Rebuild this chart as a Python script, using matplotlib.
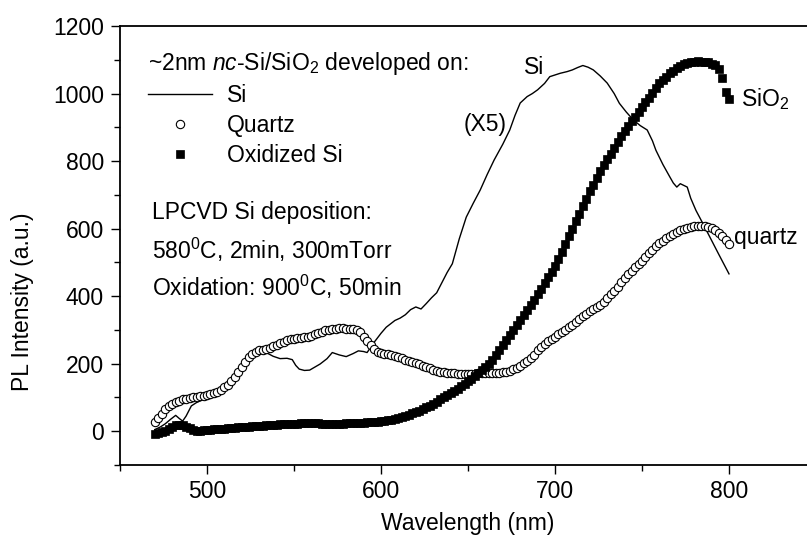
import numpy as np
import matplotlib
matplotlib.use("Agg")
import matplotlib.pyplot as plt
from matplotlib.ticker import MultipleLocator

plt.rcParams['font.family'] = ['Liberation Sans', 'DejaVu Sans']
plt.rcParams['mathtext.fontset'] = 'custom'
plt.rcParams['mathtext.rm'] = 'Liberation Sans'
plt.rcParams['mathtext.it'] = 'Liberation Sans:italic'

# PL spectra (wavelength in nm, intensity in a.u.)
wl_2nm = np.arange(470, 801, 2)

quartz = [
    28, 38, 52, 66, 75, 82, 87, 91, 94, 96,
    99, 101, 102, 103, 104, 107, 110, 113, 117, 122,
    130, 138, 150, 162, 175, 190, 205, 220, 230, 236,
    240, 242, 244, 247, 251, 256, 261, 265, 269, 272,
    274, 275, 277, 278, 280, 283, 287, 291, 295, 299,
    301, 303, 304, 305, 305, 304, 303, 302, 300, 295,
    280, 268, 255, 243, 236, 232, 230, 229, 227, 223,
    220, 216, 212, 208, 205, 201, 198, 194, 190, 186,
    182, 179, 176, 174, 173, 172, 171, 170, 170, 170,
    170, 170, 170, 171, 171, 172, 172, 172, 172, 173,
    174, 176, 179, 183, 188, 194, 201, 209, 218, 227,
    240, 249, 258, 266, 273, 280, 287, 294, 301, 308,
    316, 324, 332, 340, 348, 355, 362, 368, 375, 384,
    395, 405, 416, 428, 442, 455, 465, 475, 485, 495,
    505, 516, 527, 538, 548, 556, 564, 572, 579, 585,
    590, 596, 600, 603, 605, 607, 608, 608, 607, 605,
    601, 595, 587, 577, 565, 553,
]

oxidized = [
    -8, -6, -3, 2, 8, 13, 17, 19, 18, 14,
    9, 5, 2, 2, 3, 4, 5, 6, 7, 8,
    8, 9, 10, 11, 12, 12, 13, 14, 15, 15,
    16, 16, 17, 18, 18, 19, 20, 20, 21, 21,
    22, 22, 23, 23, 24, 24, 23, 23, 22, 22,
    21, 21, 21, 22, 22, 23, 23, 24, 24, 25,
    25, 26, 26, 27, 28, 29, 30, 32, 34, 37,
    40, 43, 46, 49, 53, 57, 61, 66, 71, 76,
    82, 88, 94, 100, 106, 112, 119, 126, 133, 140,
    148, 156, 164, 172, 180, 190, 200, 212, 225, 240,
    255, 270, 285, 300, 315, 330, 345, 360, 375, 390,
    405, 422, 439, 456, 473, 490, 510, 532, 555, 578,
    600, 622, 644, 666, 688, 710, 730, 750, 770, 788,
    805, 822, 839, 856, 873, 890, 904, 918, 932, 946,
    960, 974, 988, 1002, 1016, 1030, 1040, 1050, 1060, 1068,
    1075, 1081, 1086, 1090, 1092, 1094, 1095, 1094, 1093, 1092,
    1088, 1084, 1072, 1045, 1005, 985,
]

si_wl = [
    470, 473, 476, 479, 482, 484, 486, 488, 491, 494, 497, 500, 503, 506,
    509, 512, 515, 518, 521, 524, 527, 530, 534, 538, 542, 546, 549, 551,
    553, 556, 559, 562, 565, 569, 572, 576, 580, 584, 587, 590, 592, 594,
    596, 600, 603, 606, 608, 611, 614, 617, 620, 623, 626, 629, 632, 635,
    638, 641, 645, 649, 653, 657, 661, 665, 670, 674, 677, 680, 684, 687,
    690, 694, 697, 700, 703, 707, 710, 713, 716, 719, 722, 726, 730, 734,
    737, 741, 745, 749, 753, 756, 758, 762, 766, 768, 770, 772, 774, 776,
    778, 781, 785, 789, 794, 800,
]
si = [
    5, 12, 22, 35, 47, 38, 30, 45, 75, 85, 92, 100, 108, 115,
    125, 140, 160, 185, 208, 222, 230, 235, 233, 222, 215, 216, 212, 195,
    184, 180, 181, 190, 199, 215, 233, 226, 221, 230, 238, 236, 233, 248,
    263, 290, 308, 320, 328, 335, 345, 360, 368, 362, 378, 395, 410, 440,
    470, 496, 570, 634, 675, 714, 760, 803, 850, 892, 935, 972, 991, 1000,
    1011, 1030, 1050, 1055, 1060, 1065, 1070, 1077, 1083, 1078, 1070, 1052, 1031, 1000,
    971, 945, 922, 905, 892, 860, 832, 790, 753, 735, 723, 733, 728, 723,
    690, 654, 615, 575, 525, 466,
]

FS = 16.5

fig = plt.figure(figsize=(8.07, 5.40), dpi=100)
ax = fig.add_axes([120 / 807, 75 / 540, 696 / 807, 439 / 540])

l_si, = ax.plot(si_wl, si, color='black', lw=1.0, label='Si', zorder=2)
l_q, = ax.plot(wl_2nm, quartz, ls='none', marker='o', ms=6, mfc='white',
               mec='black', mew=0.8, label='Quartz', zorder=3)
l_ox, = ax.plot(wl_2nm, oxidized, ls='none', marker='s', ms=6.2, mfc='black',
                mec='black', mew=0.5, label='Oxidized Si', zorder=4)

ax.set_xlim(450, 850)
ax.set_ylim(-100, 1200)
ax.xaxis.set_major_locator(MultipleLocator(100))
ax.xaxis.set_minor_locator(MultipleLocator(50))
ax.yaxis.set_major_locator(MultipleLocator(200))
ax.yaxis.set_minor_locator(MultipleLocator(100))
ax.tick_params(which='both', direction='out', width=1.0, labelsize=FS)
ax.tick_params(which='major', length=6.5, pad=4)
ax.tick_params(which='minor', length=4)
ax.tick_params(axis='y', which='major', pad=5)
for s in ax.spines.values():
    s.set_linewidth(1.3)

ax.set_xlabel('Wavelength (nm)', fontsize=FS)
ax.set_ylabel('PL Intensity (a.u.)', fontsize=FS)
ax.xaxis.set_label_coords(0.5, -0.107)
ax.yaxis.set_label_coords(-0.124, 0.371)

leg = ax.legend(handles=[l_si, l_q, l_ox], loc='upper left',
                bbox_to_anchor=(0.040, 0.945), frameon=False,
                title=r'~2nm $\it{nc}$-Si/SiO$_2$ developed on:',
                alignment='left', fontsize=FS, title_fontsize=FS,
                handlelength=2.8, handletextpad=0.65, labelspacing=0.3,
                borderaxespad=0, borderpad=0)

ax.text(0.046, 0.576, 'LPCVD Si deposition:', transform=ax.transAxes,
        fontsize=FS, va='center')
ax.text(0.046, 0.490, r'580$^\mathrm{0}$C, 2min, 300mTorr',
        transform=ax.transAxes, fontsize=FS, va='center')
ax.text(0.046, 0.405, r'Oxidation: 900$^\mathrm{0}$C, 50min',
        transform=ax.transAxes, fontsize=FS, va='center')

ax.text(688, 1076, 'Si', fontsize=FS, ha='center', va='center')
ax.text(660, 909, '(X5)', fontsize=FS, ha='center', va='center')
ax.text(807, 985, r'SiO$_2$', fontsize=FS, ha='left', va='center')
ax.text(803, 575, 'quartz', fontsize=FS, ha='left', va='center')

fig.savefig('out.png', dpi=100)
